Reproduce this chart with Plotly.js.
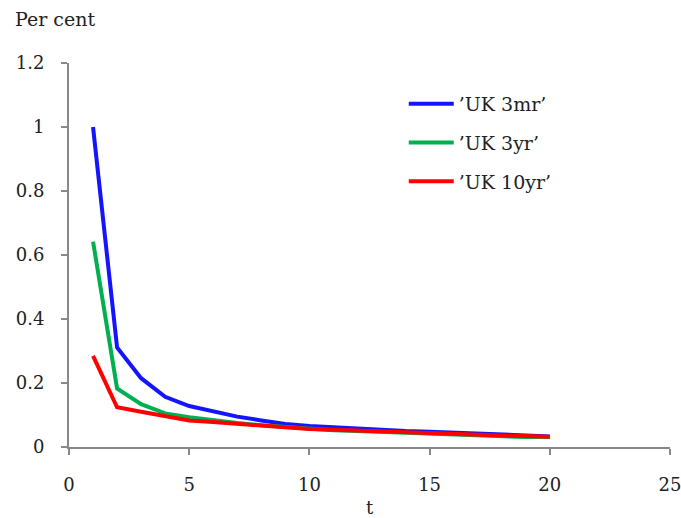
<!DOCTYPE html>
<html>
<head>
<meta charset="utf-8">
<script src="https://cdn.plot.ly/plotly-3.0.1.min.js"></script>
<style>html,body{margin:0;padding:0;background:#fff;}#chart{width:681px;height:518px;}</style>
</head>
<body>
<div id="chart"></div>
<script>
const t = [1,2,3,4,5,6,7,8,9,10,11,12,13,14,15,16,17,18,19,20];
const uk3mr = [1.0,0.311,0.215,0.157,0.128,0.110,0.095,0.083,0.072,0.066,0.062,0.057,0.052,0.050,0.048,0.045,0.042,0.039,0.038,0.033];
const uk3yr = [0.642,0.183,0.134,0.105,0.093,0.083,0.075,0.068,0.062,0.056,0.052,0.050,0.047,0.044,0.044,0.040,0.037,0.033,0.031,0.031];
const uk10yr = [0.285,0.124,0.110,0.095,0.083,0.078,0.072,0.066,0.060,0.056,0.054,0.051,0.048,0.046,0.044,0.040,0.038,0.036,0.034,0.032];
const names = ["’UK 3mr’","’UK 3yr’","’UK 10yr’"];
const colors = ["#1414ff","#00b050","#ff0000"];
const xTicks = [0,5,10,15,20,25];
const yTicks = [0,0.2,0.4,0.6,0.8,1,1.2];
const yTickText = ["0","0.2","0.4","0.6","0.8","1","1.2"];

const font = "DejaVu Serif, Liberation Serif, serif";
const series = [uk3mr, uk3yr, uk10yr];
const traces = series.map((s,i)=>({
  x: t, y: s, type: "scatter", mode: "lines", name: names[i],
  legendgroup: "g"+i,
  line: {color: colors[i], width: 4}
}));

const layout = {
  width: 681, height: 518,
  margin: {l: 69, r: 11, t: 63, b: 71},
  paper_bgcolor: "#fff", plot_bgcolor: "#fff",
  font: {family: font, size: 18, color: "#222"},
  showlegend: true,
  legend: {x: 0.557, y: 0.943, xanchor: "left", yanchor: "top",
           font: {family: font, size: 19, color: "#222"},
           itemwidth: 45,
           tracegroupgap: 11, bgcolor: "rgba(0,0,0,0)"},
  xaxis: {range: [0,25], tickvals: xTicks, ticktext: xTicks.map(String),
          showgrid: false, zeroline: false, showline: true, linecolor: "#888", linewidth: 2,
          ticks: "outside", ticklen: 6, tickcolor: "#888", tickwidth: 2,
          ticklabelstandoff: 14, ticklabeloverflow: "allow",
          title: {text: "t", font: {family: font, size: 18}, standoff: 8}},
  yaxis: {range: [0,1.2], tickvals: yTicks, ticktext: yTickText,
          showgrid: false, zeroline: false, showline: true, linecolor: "#888", linewidth: 2,
          ticks: "outside", ticklen: 6, tickcolor: "#888", tickwidth: 2,
          ticklabelstandoff: 13, ticklabeloverflow: "allow"},
  annotations: [{text: "Per cent", xref: "paper", yref: "paper", x: -0.093, y: 1.115,
                 xanchor: "left", yanchor: "middle", showarrow: false,
                 font: {family: font, size: 19, color: "#222"}}]
};
Plotly.newPlot("chart", traces, layout, {displayModeBar: false, staticPlot: true});
</script>
</body>
</html>
